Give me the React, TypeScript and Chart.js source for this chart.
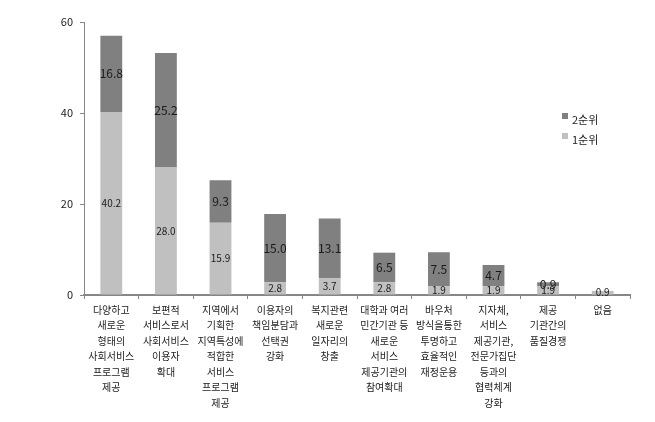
import React, { useEffect, useRef } from "react";
import { Chart, registerables } from "chart.js";

Chart.register(...registerables);

const categories: string[][] = [
  ["다양하고", "새로운", "형태의", "사회서비스", "프로그램", "제공"],
  ["보편적", "서비스로서", "사회서비스", "이용자", "확대"],
  ["지역에서", "기획한", "지역특성에", "적합한", "서비스", "프로그램", "제공"],
  ["이용자의", "책임분담과", "선택권", "강화"],
  ["복지관련", "새로운", "일자리의", "창출"],
  ["대학과 여러", "민간기관 등", "새로운", "서비스", "제공기관의", "참여확대"],
  ["바우처", "방식을통한", "투명하고", "효율적인", "재정운용"],
  ["지자체,", "서비스", "제공기관,", "전문가집단", "등과의", "협력체계", "강화"],
  ["제공", "기관간의", "품질경쟁"],
  ["없음"],
];

const rank1: number[] = [40.2, 28.0, 15.9, 2.8, 3.7, 2.8, 1.9, 1.9, 1.9, 0.9];
const rank2: number[] = [16.8, 25.2, 9.3, 15.0, 13.1, 6.5, 7.5, 4.7, 0.9, 0];

const seriesNames = ["1순위", "2순위"];
const yTicks = [0, 20, 40, 60];

const FONT = "'Noto Sans CJK KR', 'Noto Sans', sans-serif";
const C1 = "#c0c0c0";
const C2 = "#808080";

const labelPlugin = {
  id: "segLabels",
  afterDatasetsDraw(chart: any) {
    const ctx = chart.ctx;
    ctx.save();
    ctx.textAlign = "center";
    ctx.textBaseline = "middle";
    ctx.fillStyle = "#1a1a1a";
    chart.data.datasets.forEach((ds: any, di: number) => {
      const meta = chart.getDatasetMeta(di);
      ctx.font = di === 0 ? `10px ${FONT}` : `12px ${FONT}`;
      meta.data.forEach((bar: any, i: number) => {
        const v = ds.data[i];
        if (!v) return;
        const { x, y, base } = bar.getProps(["x", "y", "base"], true);
        ctx.fillText(v.toFixed(1), x, (y + base) / 2);
      });
    });
    // legend
    const items = [
      { name: seriesNames[1], color: C2, y: 120 },
      { name: seriesNames[0], color: C1, y: 140 },
    ];
    ctx.textAlign = "left";
    ctx.font = `11px ${FONT}`;
    items.forEach((it) => {
      ctx.fillStyle = it.color;
      ctx.fillRect(562, it.y - 7, 6, 6);
      ctx.fillStyle = "#222";
      ctx.fillText(it.name, 572, it.y);
    });
    ctx.restore();
  },
};

export default function App() {
  const ref = useRef<HTMLCanvasElement>(null);
  useEffect(() => {
    if (!ref.current) return;
    const chart = new Chart(ref.current, {
      type: "bar",
      data: {
        labels: categories as any,
        datasets: [
          { label: seriesNames[0], data: rank1, backgroundColor: C1, barPercentage: 0.8, categoryPercentage: 0.5 },
          { label: seriesNames[1], data: rank2, backgroundColor: C2, barPercentage: 0.8, categoryPercentage: 0.5 },
        ],
      },
      options: {
        animation: false,
        responsive: false,
        layout: { padding: { top: 22, right: 25, left: 0, bottom: 0 } },
        plugins: { legend: { display: false }, tooltip: { enabled: false } },
        scales: {
          x: {
            stacked: true,
            afterFit: (s: any) => { s.height = 127; },
            grid: { display: true, drawOnChartArea: false, drawTicks: true, tickLength: 4, color: "#868686", offset: true },
            border: { color: "#868686", width: 2 },
            ticks: {
              autoSkip: false,
              maxRotation: 0,
              minRotation: 0,
              padding: 3,
              color: "#222",
              font: { family: FONT, size: 10, lineHeight: 1.55 },
            },
          },
          y: {
            stacked: true,
            min: 0,
            max: 60,
            afterFit: (s: any) => { s.width = 84; },
            afterBuildTicks: (s: any) => { s.ticks = yTicks.map((v) => ({ value: v })); },
            grid: { display: true, drawOnChartArea: false, drawTicks: true, tickLength: 4, color: "#868686" },
            border: { color: "#868686", width: 1 },
            ticks: { padding: 7, color: "#222", font: { family: FONT, size: 11 } },
          },
        },
      },
      plugins: [labelPlugin],
    });
    return () => chart.destroy();
  }, []);
  return (
    <div style={{ position: "fixed", left: 0, top: 0, width: 655, height: 422, background: "#fff" }}>
      <canvas ref={ref} width={655} height={422} style={{ width: 655, height: 422 }} />
    </div>
  );
}
